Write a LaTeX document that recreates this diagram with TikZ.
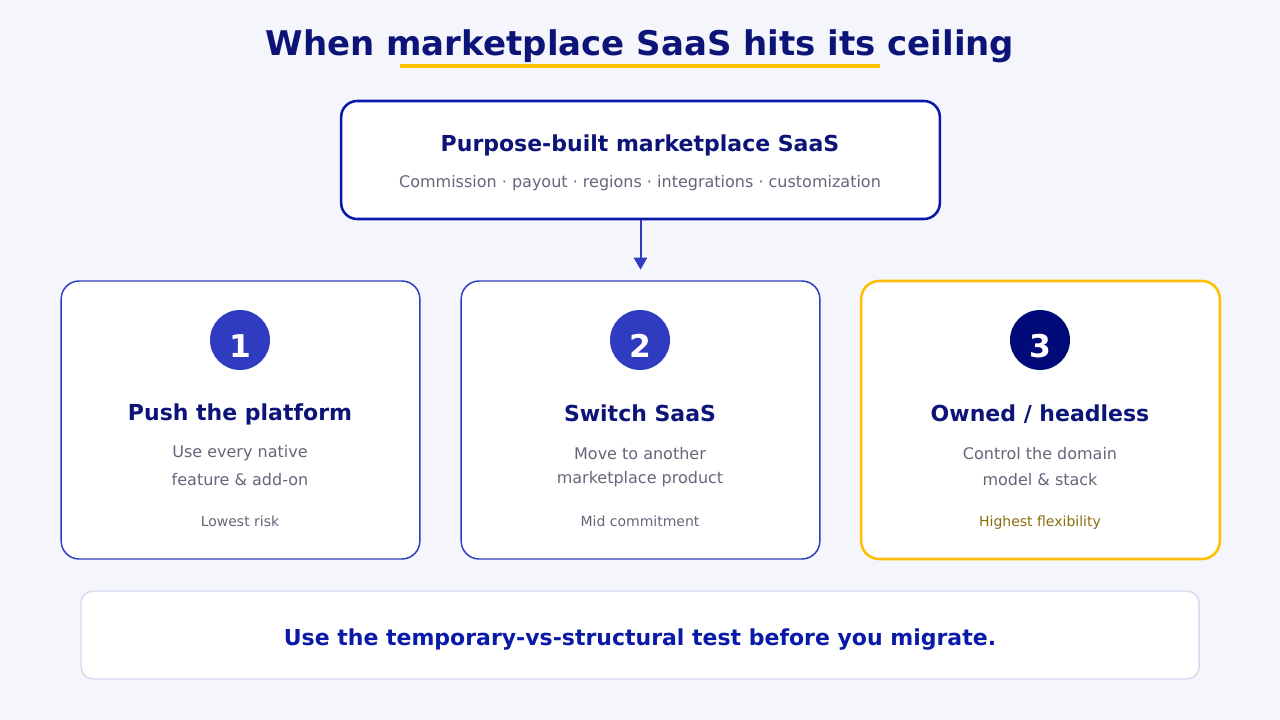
\documentclass[tikz,border=0pt]{standalone}
\usepackage{fontspec}
\setmainfont{DejaVu Sans}
\usetikzlibrary{arrows.meta}
\definecolor{bgpage}{HTML}{F5F6FB}
\definecolor{navy}{HTML}{0D1478}
\definecolor{royal}{HTML}{0A1AA8}
\definecolor{indigo}{HTML}{2F3CBF}
\definecolor{deepnavy}{HTML}{000A78}
\definecolor{amber}{HTML}{FFBF00}
\definecolor{slate}{HTML}{66667A}
\definecolor{olive}{HTML}{8A6D10}
\definecolor{mist}{HTML}{D8DAF0}
\begin{document}
\begin{tikzpicture}[x=0.75pt, y=-0.75pt,
    card/.style={draw=indigo, line width=1.1pt, fill=white, rounded corners=13.5pt,
                 minimum width=269pt, minimum height=208.5pt, inner sep=0pt},
    badge/.style={circle, fill=indigo, text=white, minimum size=45pt, inner sep=0pt,
                  text height=26.5pt, text depth=0pt,
                  font=\fontsize{23.5}{27}\selectfont\bfseries},
    head/.style={anchor=base, text=navy, font=\fontsize{16.5}{20}\selectfont\bfseries},
    desc/.style={anchor=base, text=slate, font=\fontsize{12}{15}\selectfont},
    tag/.style={anchor=base, text=slate, font=\fontsize{10.5}{13}\selectfont}]
  \fill[bgpage] (0,0) rectangle (1280,720);
  \useasboundingbox (0,0) rectangle (1280,720);

  \node[anchor=base, text=navy, font=\fontsize{25.5}{30}\selectfont\bfseries] (title) at (640,56)
    {When marketplace SaaS hits its ceiling};
  \fill[amber] (400,64) rectangle (880,68);

  \node[draw=royal, line width=1.9pt, fill=white, rounded corners=12pt,
        minimum width=449pt, minimum height=88.5pt] (saas) at (640.5,160) {};
  \node[head] (saashead) at (640,152) {Purpose-built marketplace SaaS};
  \node[desc] (saasdesc) at (640,188)
    {Commission · payout · regions · integrations · customization};

  \node[card] (card1) at (240.5,420) {};
  \node[card] (card2) at (640.5,420) {};
  \node[card, draw=amber, line width=1.9pt] (card3) at (1040.5,420) {};

  \draw[indigo, line width=1.5pt, -{Triangle[length=9pt, width=10pt]}, shorten >=8pt]
    (saas.south) -- (card2.north);

  \node[badge] (badge1) at (240,340) {1};
  \node[badge] (badge2) at (640,340) {2};
  \node[badge, fill=deepnavy] (badge3) at (1040,340) {3};

  \node[head] (head1) at (240,420) {Push the platform};
  \node[head] (head2) at (640,421) {Switch SaaS};
  \node[head] (head3) at (1040,421) {Owned / headless};

  \node[desc] (desc1a) at (240,457) {Use every native};
  \node[desc] (desc1b) at (240,485) {feature \& add-on};
  \node[desc] (desc2a) at (640,459) {Move to another};
  \node[desc] (desc2b) at (640,483) {marketplace product};
  \node[desc] (desc3a) at (1040,459) {Control the domain};
  \node[desc] (desc3b) at (1040,485) {model \& stack};

  \node[tag] (tag1) at (240,526) {Lowest risk};
  \node[tag] (tag2) at (640,526) {Mid commitment};
  \node[tag, text=olive] (tag3) at (1040,526) {Highest flexibility};

  \node[draw=mist, line width=1.1pt, fill=white, rounded corners=9pt,
        minimum width=838.5pt, minimum height=66pt] (note) at (640,635) {};
  \node[anchor=base, text=royal, font=\fontsize{16.5}{20}\selectfont\bfseries] (notetext) at (640,645)
    {Use the temporary-vs-structural test before you migrate.};
\end{tikzpicture}
\end{document}
